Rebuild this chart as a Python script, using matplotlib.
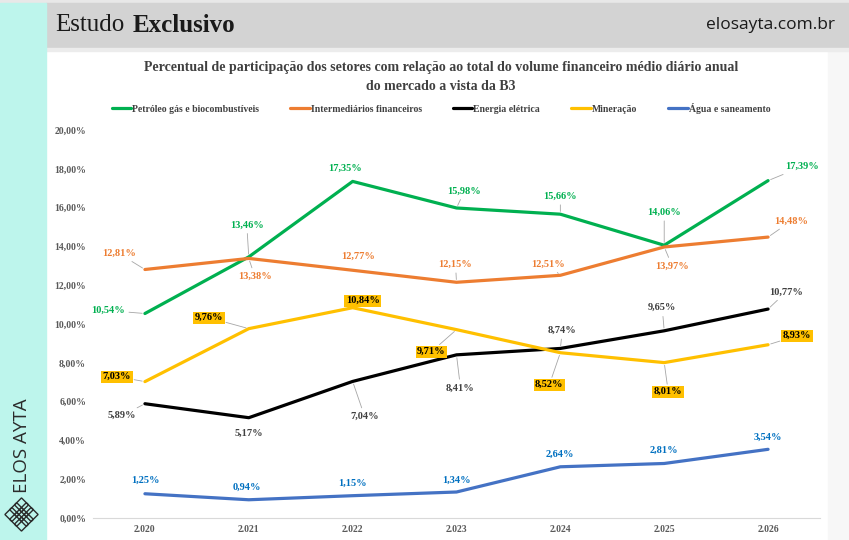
import matplotlib
matplotlib.use('Agg')
import matplotlib.pyplot as plt
from matplotlib.patches import Rectangle, Polygon

# ---- dados -------------------------------------------------------------
anos = ['2.020', '2.021', '2.022', '2.023', '2.024', '2.025', '2.026']

petroleo      = [10.54, 13.46, 17.35, 15.98, 15.66, 14.06, 17.39]
intermediarios = [12.81, 13.38, 12.77, 12.15, 12.51, 13.97, 14.48]
energia       = [5.89, 5.17, 7.04, 8.41, 8.74, 9.65, 10.77]
mineracao     = [7.03, 9.76, 10.84, 9.71, 8.52, 8.01, 8.93]
agua          = [1.25, 0.94, 1.15, 1.34, 2.64, 2.81, 3.54]

nomes = ['Petróleo gás e biocombustíveis', 'Intermediários financeiros',
         'Energia elétrica', 'Mineração', 'Água e saneamento']

# ---- estilo / posicoes dos rotulos (pixels, y para cima) ---------------
series = [
    (petroleo, '#00B050', '#00B050', None,
     [(-37, 3), (-2, 32), (-8, 13), (8, 17), (0, 18), (0, 33), (34, 14)]),
    (intermediarios, '#ED7D31', '#ED7D31', None,
     [(-26, 16), (6, -18), (5, 14), (-1, 18), (-12, 11), (8, -19), (23, 16)]),
    (energia, '#000000', '#404040', None,
     [(-23, -12), (0, -16), (12, -35), (4, -33), (2, 18), (-2, 23), (18, 17)]),
    (mineracao, '#FFC000', '#000000', '#FFC000',
     [(-28, 5), (-40, 11), (10, 7), (-25, -22), (-11, -32), (4, -29), (29, 9)]),
    (agua, '#4472C4', '#0070C0', None,
     [(0, 13), (-2, 12), (0, 12), (0, 12), (0, 12), (0, 13), (0, 12.5)]),
]

SERIF = 'Liberation Serif'


def pct(v):
    return f'{v:.2f}%'.replace('.', ',')


fig = plt.figure(figsize=(8.49, 5.40), dpi=100)

# ---- fundo, cabecalho e faixa lateral ----------------------------------
bg = fig.add_axes([0, 0, 1, 1], zorder=0)
bg.set_xlim(0, 849)
bg.set_ylim(540, 0)
bg.axis('off')
bg.add_patch(Rectangle((0, 0), 849, 540, color='white'))
bg.add_patch(Rectangle((828, 51), 21, 489, color='#f7f7f7'))
bg.add_patch(Rectangle((0, 0), 849, 3, color='#e8e8e8'))
bg.add_patch(Rectangle((46, 3), 803, 45, color='#d3d3d3'))
bg.add_patch(Rectangle((46, 48), 803, 3, color='#ececec'))
bg.add_patch(Rectangle((0, 3), 46, 537, color='#bdf5ec'))

bg.text(55, 25, 'Estudo', family=SERIF, fontsize=18, color='#1a1a1a',
        va='center', ha='left')
bg.text(133, 25, 'Exclusivo', family=SERIF, fontsize=18, fontweight='bold',
        color='#1a1a1a', va='center', ha='left')
bg.text(835, 25, 'elosayta.com.br', family='Open Sans', fontsize=12.5,
        color='#1a1a1a', va='center', ha='right')

bg.text(22, 446, 'ELOS AYTA', family='Open Sans', fontsize=13.5, color='#2b2b2b',
        rotation=90, va='center', ha='center')

# logo: trelica de losangos
cx, cy, s, h = 21.5, 514.5, 4.8, 7.0
for i in (-1, 0, 1):
    for j in (-1, 0, 1):
        x0 = cx + (i - j) * s
        y0 = cy + (i + j) * s
        bg.add_patch(Polygon([(x0, y0 - h), (x0 + h, y0), (x0, y0 + h), (x0 - h, y0)],
                             closed=True, fill=False, edgecolor='#2b2b2b', lw=1.0))

# ---- titulo e legenda --------------------------------------------------
fig.text(441 / 849, 1 - 68 / 540,
         'Percentual de participação dos setores com relação ao total do volume financeiro médio diário anual',
         family=SERIF, fontsize=10, fontweight='bold', color='#404040',
         ha='center', va='center')
fig.text(441 / 849, 1 - 86 / 540, 'do mercado a vista da B3',
         family=SERIF, fontsize=10, fontweight='bold', color='#404040',
         ha='center', va='center')

# ---- grafico -----------------------------------------------------------
ax = fig.add_axes([93 / 849, 1 - 518 / 540, 727 / 849, 388 / 540], zorder=1)
ax.patch.set_alpha(0)
x = list(range(len(anos)))

handles = []
for (vals, cor, cor_txt, caixa, offs), nome in zip(series, nomes):
    ln, = ax.plot(x, vals, color=cor, lw=2.3, solid_capstyle='round',
                  solid_joinstyle='round', label=nome, zorder=3)
    handles.append(ln)
    for xi, v, (dx, dy) in zip(x, vals, offs):
        longe = (dx * dx + dy * dy) ** 0.5 > 16
        bbox = dict(boxstyle='square,pad=0.15', fc=caixa, ec='none') if caixa else None
        ax.annotate(pct(v), (xi, v), xytext=(dx, dy), textcoords='offset pixels',
                    ha='center', va='center', family=SERIF, fontsize=7.5,
                    fontweight='bold', color=cor_txt, bbox=bbox, zorder=4,
                    arrowprops=dict(arrowstyle='-', color='#a6a6a6', lw=0.6,
                                    shrinkA=1, shrinkB=2) if longe else None,
                    annotation_clip=False)

ax.set_xlim(-0.5, len(anos) - 0.5)
ax.set_ylim(0, 20)
ax.set_yticks(range(0, 21, 2))
ax.set_yticklabels([pct(v) for v in range(0, 21, 2)])
ax.set_xticks(x)
ax.set_xticklabels(anos)
for lab in ax.get_xticklabels() + ax.get_yticklabels():
    lab.set_family(SERIF)
    lab.set_fontweight('bold')
    lab.set_fontsize(7)
    lab.set_color('#595959')
ax.tick_params(length=0, pad=5)
for sp in ('top', 'right', 'left'):
    ax.spines[sp].set_visible(False)
ax.spines['bottom'].set_color('#d9d9d9')
ax.spines['bottom'].set_linewidth(0.8)

fig.legend(handles=handles, loc='center', bbox_to_anchor=(441 / 849, 1 - 108 / 540),
           ncol=5, frameon=False, prop=dict(family=SERIF, size=7, weight='bold'),
           handlelength=2.0, handletextpad=0.1, columnspacing=3.2,
           labelcolor='#404040')

fig.savefig('out.png', dpi=100)
